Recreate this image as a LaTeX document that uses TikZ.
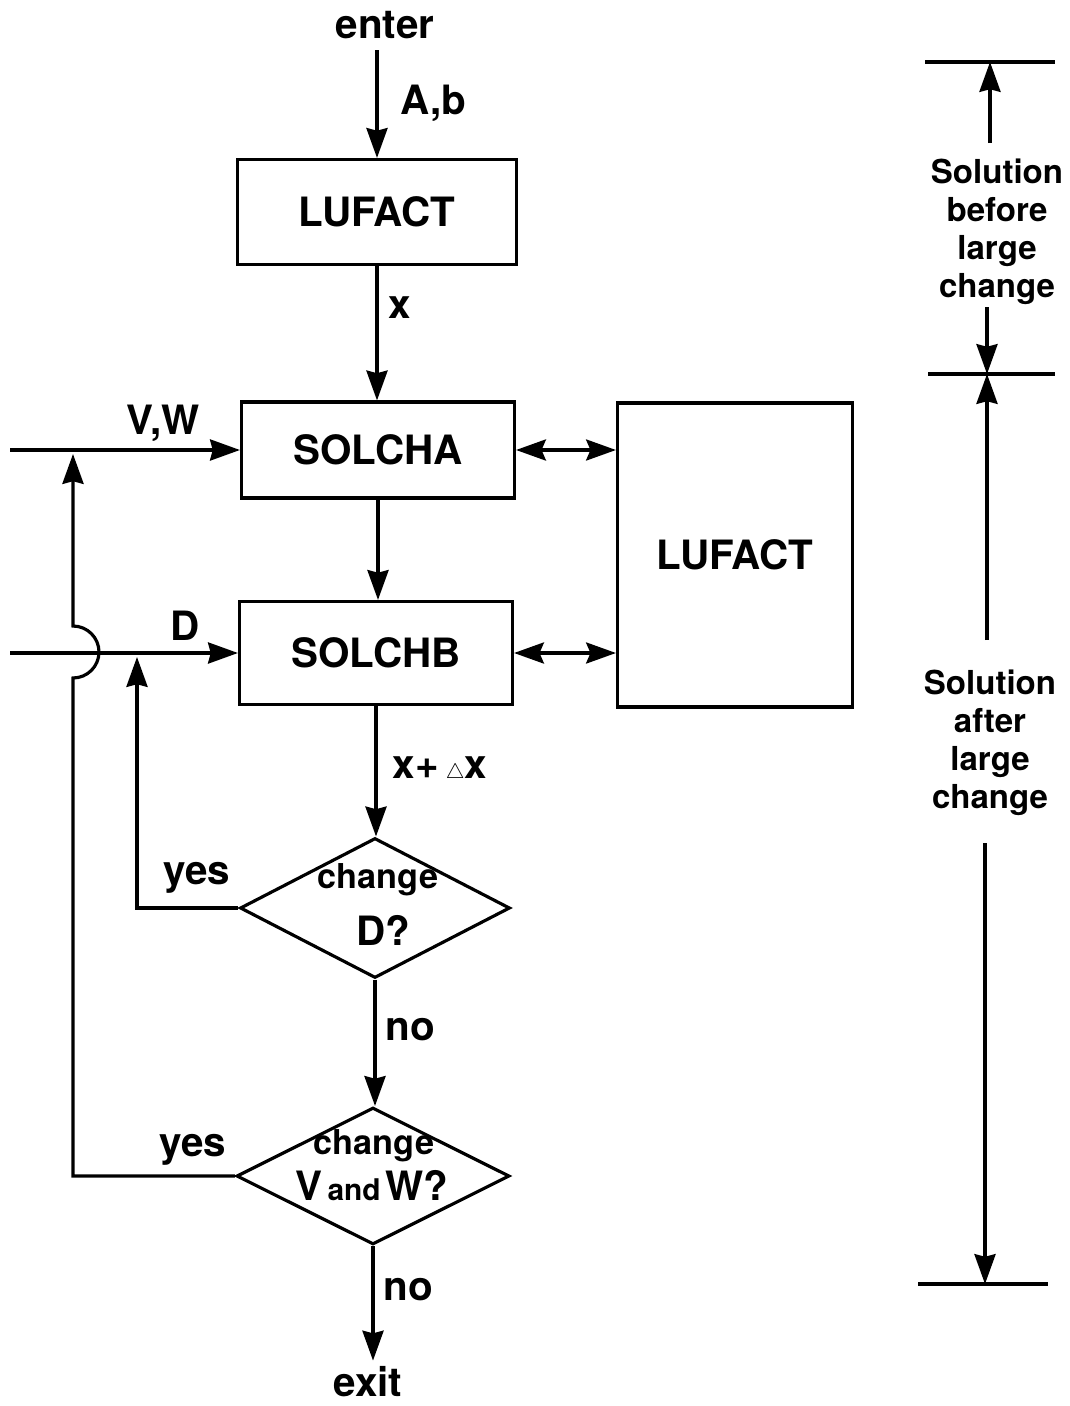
\documentclass[tikz,border=0pt]{standalone}
\usepackage{fontspec}
\setmainfont{TeX Gyre Heros}
\usepackage{tikz}
\usetikzlibrary{arrows.meta, shapes.geometric}
\newcommand{\lblfont}{\fontsize{23}{27}\selectfont\bfseries}
\newcommand{\chgfont}{\fontsize{19.5}{22}\selectfont\bfseries}
\newcommand{\dimfont}{\fontsize{18.8}{21.6}\selectfont\bfseries}
\tikzset{
  flow arrow/.style = {-{Stealth[length=17pt, width=12pt, inset=1.5pt]}, line width=1.8pt},
  both flow/.style  = {{Stealth[length=17pt, width=12pt, inset=2.5pt]}-{Stealth[length=17pt, width=12pt, inset=2.5pt]}, line width=1.8pt},
  proc box/.style   = {draw, line width=1.8pt, minimum width=5.46cm, minimum height=1.92cm, inner sep=0pt},
  decision/.style   = {draw, diamond, line width=1.8pt, minimum width=5.4cm, minimum height=2.8cm, inner sep=0pt},
  tick line/.style  = {line width=1.8pt},
  dim text/.style   = {font=\dimfont, align=center, inner sep=0pt},
}

\begin{document}
\begin{tikzpicture}[x=0.02cm, y=-0.02cm, font=\lblfont]
  \useasboundingbox (0,0) rectangle (1069,1406);

  % ── main column ────────────────────────────────────────────────────────
  \node (enter) at (385,25) {enter};
  \node[proc box, minimum width=5.58cm, minimum height=2.1cm] (lufactA) at (377,212) {LUFACT};
  \node[proc box] (solcha) at (378,450) {SOLCHA};
  \node[proc box, minimum height=2.06cm] (solchb) at (376,653) {SOLCHB};
  \node[proc box, minimum width=4.7cm, minimum height=6.08cm] (lufactB) at (735,555) {LUFACT};

  % decisions (text set on top, it overruns the diamond)
  \node[decision] (chgD) at (375,908) {};
  \node[font=\chgfont] (chgDa) at (378,880) {change};
  \node (chgDb) at (383,930) {D?};
  \node[decision, minimum width=5.46cm, minimum height=2.74cm] (chgVW) at (373,1176) {};
  \node[font=\chgfont] (chgVWa) at (374,1146) {change};
  \node (chgVWb) at (372,1186) {V{\fontsize{17}{17}\selectfont\,and\,}W?};

  \node (exit) at (368,1382) {exit};

  % vertical flow
  \draw[flow arrow, shorten <=3pt] (lufactA.north |- enter.south) -- (lufactA.north);
  \draw[flow arrow] (lufactA.south) -- (lufactA.south |- solcha.north);
  \draw[flow arrow] (solcha.south) -- (solcha.south |- solchb.north);
  \draw[flow arrow] (solchb.south) -- (solchb.south |- chgD.north);
  \draw[flow arrow] (chgD.south) -- (chgD.south |- chgVW.north);
  \draw[flow arrow] (chgVW.south) -- (chgVW.south |- exit.north);

  % links to the big LUFACT box
  \draw[both flow] (solcha.east) -- (solcha.east -| lufactB.west);
  \draw[both flow] (solchb.east) -- (solchb.east -| lufactB.west);

  % inputs from the left
  \coordinate (vwin) at (10,450);
  \coordinate (din)  at (10,653);
  \draw[flow arrow] (vwin) -- (solcha.west);
  \draw[flow arrow] (din) -- (solchb.west);

  % labels on the flow
  \node (ablbl) at (433,103) {A,b};
  \node (xlbl)  at (400,308) {x};
  \node (vwlbl) at (163,423) {V,W};
  \node (dlbl)  at (185,626) {D};
  \node (dxlbl) at (440,770) {x+\,{\fontsize{12}{12}\selectfont$\triangle$}x};
  \node (yesA)  at (197,878) {yes};
  \node (noA)   at (410,1030) {no};
  \node (yesB)  at (193,1150) {yes};
  \node (noB)   at (408,1290) {no};

  % feedback loops
  \coordinate (dtap)  at (137,657);
  \coordinate (vwtap) at (73,454);
  \coordinate (hop)   at (73,678);
  \draw[flow arrow] (chgD.west) -| (dtap);
  \draw[flow arrow] (chgVW.west) -| (hop)
    arc[start angle=-90, end angle=90, radius=0.52cm] -- (vwtap);

  % ── solution phases on the right ───────────────────────────────────────
  \draw[tick line] (925,62) -- (1055,62);
  \draw[tick line] (928,374) -- (1055,374);
  \draw[tick line] (918,1284) -- (1048,1284);
  \coordinate (tickA) at (990,62);
  \coordinate (tickB) at (987,374);
  \coordinate (tickC) at (985,1284);

  \node[dim text] (before) at (997,232) {Solution\\before\\large\\change};
  \node[dim text] (after)  at (990,743) {Solution\\after\\large\\change};

  \coordinate (beforeUp) at (990,143);
  \coordinate (beforeDn) at (987,307);
  \coordinate (afterUp)  at (987,640);
  \coordinate (afterDn)  at (985,843);
  \draw[flow arrow] (beforeUp) -- (tickA);
  \draw[flow arrow] (beforeDn) -- (tickB);
  \draw[flow arrow] (afterUp) -- (tickB);
  \draw[flow arrow] (afterDn) -- (tickC);

\end{tikzpicture}
\end{document}
